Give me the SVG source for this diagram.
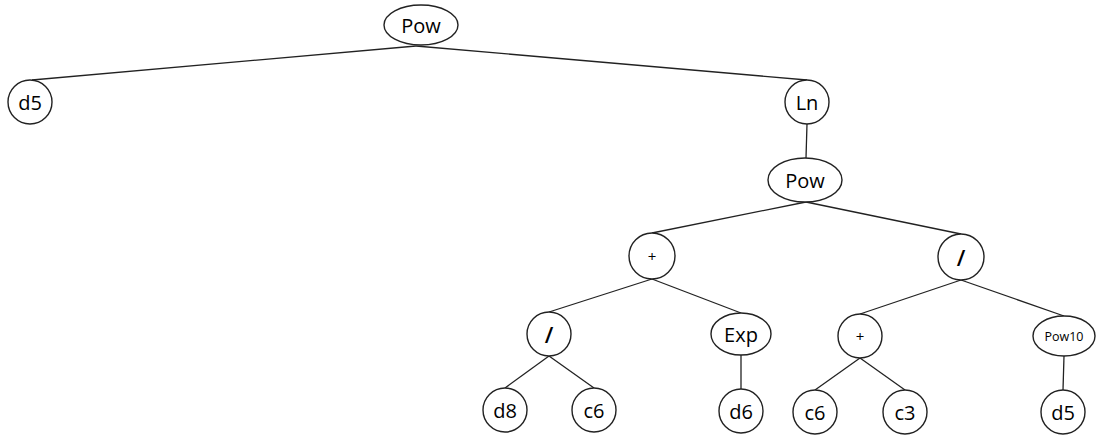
<svg xmlns="http://www.w3.org/2000/svg" width="1105" height="437" viewBox="0 0 1105 437">
  <style>
    .node ellipse, .node circle { fill: #fff; stroke: #222; stroke-width: 1.4; }
    .node text { font-family: "Open Sans", "Liberation Sans", sans-serif; font-size: 20px; font-weight: 500; fill: #000; text-anchor: middle; dominant-baseline: central; }
    .node text.small { font-size: 12.5px; font-weight: 400; }
    .node text.op { font-size: 15px; font-weight: 400; }
    .node text.slash { font-size: 22px; font-weight: 600; }
    #edges line { stroke: #222; stroke-width: 1.3; }
  </style>
  <rect width="1105" height="437" fill="#fff"/>
  <g id="edges">
    <line x1="416" y1="46" x2="32" y2="80"/>
    <line x1="416" y1="46" x2="807" y2="80"/>
    <line x1="807" y1="124" x2="806" y2="158"/>
    <line x1="806" y1="202" x2="652" y2="233"/>
    <line x1="806" y1="202" x2="961" y2="234"/>
    <line x1="652" y1="279" x2="549" y2="312"/>
    <line x1="652" y1="279" x2="741" y2="313"/>
    <line x1="961" y1="280" x2="860" y2="314"/>
    <line x1="961" y1="280" x2="1064" y2="316"/>
    <line x1="549" y1="356" x2="505" y2="388"/>
    <line x1="549" y1="356" x2="594" y2="388"/>
    <line x1="741" y1="355" x2="741" y2="389"/>
    <line x1="860" y1="358" x2="815" y2="390"/>
    <line x1="860" y1="358" x2="905" y2="390"/>
    <line x1="1064" y1="356" x2="1063" y2="390"/>
  </g>
  <g id="n-pow-root" class="node"><ellipse cx="421" cy="25" rx="37" ry="20"/><text x="421" y="25">Pow</text></g>
  <g id="n-d5-left" class="node"><circle cx="30" cy="102" r="22"/><text x="30" y="102">d5</text></g>
  <g id="n-ln" class="node"><circle cx="807" cy="102" r="22"/><text x="807" y="102">Ln</text></g>
  <g id="n-pow-inner" class="node"><ellipse cx="805" cy="180" rx="37" ry="22"/><text x="805" y="180">Pow</text></g>
  <g id="n-plus-left" class="node"><circle cx="652" cy="256" r="23"/><text class="op" x="652" y="256">+</text></g>
  <g id="n-div-right" class="node"><circle cx="961" cy="257" r="23"/><text class="slash" x="961" y="257">/</text></g>
  <g id="n-div-left" class="node"><circle cx="549" cy="334" r="22"/><text class="slash" x="549" y="334">/</text></g>
  <g id="n-exp" class="node"><ellipse cx="741" cy="334" rx="30" ry="21"/><text x="741" y="334">Exp</text></g>
  <g id="n-plus-right" class="node"><circle cx="860" cy="336" r="22"/><text class="op" x="860" y="336">+</text></g>
  <g id="n-pow10" class="node"><ellipse cx="1064" cy="336" rx="31" ry="20"/><text class="small" x="1064" y="336">Pow10</text></g>
  <g id="n-d8" class="node"><circle cx="505" cy="410" r="22"/><text x="505" y="410">d8</text></g>
  <g id="n-c6-a" class="node"><circle cx="594" cy="410" r="22"/><text x="594" y="410">c6</text></g>
  <g id="n-d6" class="node"><circle cx="741" cy="411" r="22"/><text x="741" y="411">d6</text></g>
  <g id="n-c6-b" class="node"><circle cx="815" cy="412" r="22"/><text x="815" y="412">c6</text></g>
  <g id="n-c3" class="node"><circle cx="905" cy="412" r="22"/><text x="905" y="412">c3</text></g>
  <g id="n-d5-right" class="node"><circle cx="1063" cy="412" r="22"/><text x="1063" y="412">d5</text></g>
</svg>
